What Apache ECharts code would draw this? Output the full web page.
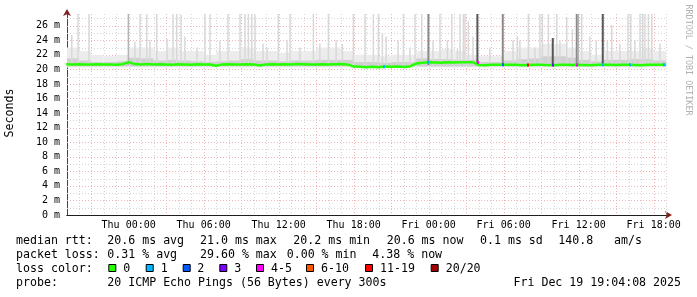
<!DOCTYPE html>
<html><head><meta charset="utf-8">
<script src="https://cdn.jsdelivr.net/npm/echarts@6/dist/echarts.min.js"></script>
<style>html,body{margin:0;padding:0;background:#fff}#c{width:697px;height:297px}</style>
</head><body><div id="c"></div>
<script>
// ---- data (hours relative to Thu 00:00, rtt in ms) ----
const X_MIN = -4.9311, X_MAX = 43.0689;
const Y_MAX = 27.6;
const xLabelHours = [0, 6, 12, 18, 24, 30, 36, 42];
const dayNames = ['Thu', 'Fri'];
const medianStart = -5, medianStep = 0.5;
const medianRtt = [20.70,20.68,20.70,20.66,20.68,20.70,20.68,20.66,20.62,20.70,
  21.00,20.72,20.68,20.74,20.66,20.70,20.66,20.62,20.70,20.68,
  20.64,20.70,20.68,20.66,20.50,20.68,20.70,20.68,20.66,20.70,
  20.68,20.52,20.68,20.70,20.66,20.70,20.68,20.72,20.70,20.68,
  20.66,20.70,20.68,20.70,20.72,20.68,20.38,20.36,20.30,20.34,
  20.30,20.38,20.36,20.38,20.32,20.40,20.80,20.92,20.96,20.94,
  20.92,20.96,20.94,20.98,20.96,20.98,20.60,20.55,20.62,20.64,
  20.62,20.64,20.62,20.55,20.60,20.64,20.62,20.58,20.55,20.62,
  20.64,20.60,20.62,20.58,20.55,20.62,20.64,20.62,20.60,20.64,
  20.62,20.60,20.55,20.62,20.64,20.62,20.64];
const smokeStart = -5; // hourly bins
const smokeLight = [23.0,22.5,22.0,21.8,22.0,23.0,23.0,22.5,23.0,22.5,22.5,22.0,22.5,22.5,23.0,22.5,
  22.5,22.3,22.5,22.5,23.0,23.0,22.5,22.0,22.0,21.8,22.0,22.0,22.5,22.5,22.8,22.5,
  22.0,21.8,21.8,22.5,23.0,23.0,23.5,23.5,23.0,22.5,22.0,22.5,22.5,22.5,22.8,22.5];
const smokeMid = [21.5,21.2,21.0,21.0,21.1,21.6,21.5,21.2,21.3,21.2,21.1,21.0,21.1,21.2,21.4,21.2,
  21.2,21.1,21.2,21.2,21.3,21.3,21.3,21.0,21.0,20.9,21.0,21.0,21.5,21.4,21.4,21.3,
  21.3,21.0,21.0,21.2,21.4,21.5,21.8,21.8,21.6,21.3,21.1,21.3,21.3,21.4,21.4,21.2];
// [hour, max rtt, density 1..4]
const spikes = [
  [-4.55,24.7,1],[-4.05,28,1],[-3.17,28,1],[-0.02,28,2],[0.5,23.8,1],[0.91,28,1],[1.45,28,1],[1.7,24.0,1],
  [2.25,28,1],[3.07,24.2,1],[3.55,28,1],[3.85,28,1],[4.19,27.5,1],[4.5,24.5,1],[5.47,23.0,1],[6.11,28,1],
  [6.51,28,1],[7.3,24.0,1],[7.95,28,1],[8.91,28,1],[9.31,28,1],[9.58,28,1],[9.85,28,1],[10.11,27.5,1],
  [10.75,23.5,1],[11.07,23.0,1],[11.98,28,1],[12.67,24.0,1],[12.91,28,1],[13.7,23.0,1],[14.78,28,1],
  [15.3,23.5,1],[15.98,28,1],[16.6,24.0,1],[17.1,23.5,1],[17.98,28,1],[18.91,28,1],[19.58,28,1],[19.98,28,1],
  [20.3,25.0,1],[20.6,24.5,1],[21.55,24.0,1],[21.98,28,1],[22.5,23.0,1],[22.91,28,1],[23.45,28,1],[23.98,28,3],
  [24.35,24.0,1],[24.91,28,1],[25.5,24.0,1],[25.85,28,1],[26.3,22.8,1],[26.51,28,1],[26.78,28,1],[26.91,28,1],
  [27.18,26.6,1],[27.55,24.5,1],[27.9,28,4],[28.9,23.0,1],[29.93,28,3],[30.75,24.0,1],[31.1,24.5,1],[31.3,24.0,1],
  [31.98,27.6,1],[32.5,23.0,1],[32.9,28,1],[33.1,28,1],[33.58,28,1],[33.93,24.3,4],[34.25,28,1],[34.5,24.0,1],
  [35.05,27.2,1],[35.5,25.5,1],[35.85,28,3],[35.97,28,2],[36.25,28,1],[36.9,24.5,1],[37.4,24.0,1],[37.93,28,4],
  [38.3,24.0,1],[38.65,26.1,1],[39.3,23.5,1],[39.95,28,1],[40.17,28,1],[40.5,24.0,1],[40.91,28,1],[41.13,28,1],
  [41.31,28,1],[41.58,28,1],[41.85,28,1],[42.5,23.5,1]];
// [hour, rtt, loss class index]
const lossMarks = [[20.39,20.36,1],[23.98,20.96,1],[27.91,20.95,4],[29.93,20.62,2],[31.98,20.60,6],
  [33.93,20.58,3],[35.9,20.60,4],[37.93,20.62,1],[40.11,20.62,1],[42.83,20.62,1]];
const lossLabels = ['0','1','2','3','4-5','6-10','11-19','20/20'];
const rttStats = ['median rtt:','20.6 ms avg','21.0 ms max','20.2 ms min','20.6 ms now','0.1 ms sd','140.8','am/s'];
const lossStats = ['packet loss:','0.31 % avg','29.60 % max','0.00 % min','4.38 % now'];
const probeText = ['probe:','20 ICMP Echo Pings (56 Bytes) every 300s'];
const stampText = 'Fri Dec 19 19:04:08 2025';

// ---- styles / layout ----
const lossColors = ['#26ff00','#00b8ff','#0059ff','#7e00ff','#ff00ff','#ff5500','#ff0000','#a10000'];
const densityColors = ['#d8d8d8','#d8d8d8','#b4b4b4','#8a8a8a','#565656'];
const MONO = '"DejaVu Sans Mono", monospace';
const FONT = '11.6px ' + MONO;

const medianData = medianRtt.map((v, i) => [medianStart + i * medianStep, v]);
const lightData = smokeLight.map((v, i) => [smokeStart + i, v]);
const midData = smokeMid.map((v, i) => [smokeStart + i, v]);
const vGrid = []; for (let h = Math.ceil(X_MIN); h <= Math.floor(X_MAX); h++) vGrid.push([h, 0]);
const hGrid = []; for (let v = 1; v < Y_MAX; v++) hGrid.push([X_MIN, v]);

function csRect(params) {
  const c = params.coordSys; return {x: c.x, y: c.y, width: c.width, height: c.height};
}
function renderBand(color, base) {
  return function (params, api) {
    const h = api.value(0), top = api.value(1);
    const p0 = api.coord([h, top]), p1 = api.coord([h + 1, base]);
    const r = echarts.graphic.clipRectByRect(
      {x: p0[0], y: p0[1], width: p1[0] - p0[0], height: p1[1] - p0[1]}, csRect(params));
    return r && {type: 'rect', shape: r, style: {fill: color}};
  };
}
function renderSpike(params, api) {
  const h = api.value(0), top = api.value(1), d = api.value(2);
  const p0 = api.coord([h, top]), p1 = api.coord([h, 20.6]);
  const w = d >= 3 ? 2 : 1.5;
  const r = echarts.graphic.clipRectByRect(
    {x: p0[0] - w / 2, y: p0[1], width: w, height: p1[1] - p0[1]}, csRect(params));
  return r && {type: 'rect', shape: r, style: {fill: densityColors[d]}};
}
function renderVGrid(params, api) {
  const h = api.value(0); const c = params.coordSys;
  const x = Math.round(api.coord([h, 0])[0]) + 0.5;
  if (x <= c.x + 1 || x > c.x + c.width) return null;
  const major = Math.round(h) % 3 === 0;
  return {type: 'line', shape: {x1: x, y1: c.y, x2: x, y2: c.y + c.height},
    style: {stroke: major ? '#f0b4b4' : '#d4d4d4', lineWidth: 1, lineDash: [1, 2]}};
}
function renderHGrid(params, api) {
  const v = api.value(1); const c = params.coordSys;
  const y = Math.round(api.coord([X_MIN, v])[1]) + 0.5;
  const major = Math.round(v) % 2 === 0;
  return {type: 'line', shape: {x1: c.x, y1: y, x2: c.x + c.width, y2: y},
    style: {stroke: major ? '#f0b4b4' : '#d4d4d4', lineWidth: 1, lineDash: [1, 2]}};
}
function renderLoss(params, api) {
  const p = api.coord([api.value(0), api.value(1)]);
  return {type: 'rect', shape: {x: Math.round(p[0]) - 1, y: p[1] - 1.5, width: 2, height: 3},
    style: {fill: lossColors[api.value(2)]}};
}

const graphics = [];
function txt(x, y, s, extra) {
  graphics.push(Object.assign({type: 'text', x: x, y: y, silent: true,
    style: {text: s, font: FONT, fill: '#000', verticalAlign: 'middle', textVerticalAlign: 'middle'}}, extra || {}));
}
const rttX = [16, 107.3, 200, 293.3, 386.7, 480, 558.3, 614];
rttStats.forEach((s, i) => txt(rttX[i], 241, s));
const lossX = [16, 107.3, 200, 286.7, 372.3];
lossStats.forEach((s, i) => txt(lossX[i], 255, s));
txt(16, 268.5, 'loss color:');
const boxX = [108.3, 145.7, 182.7, 219.3, 256, 306, 365, 430.7];
const lblX = [123.3, 160.7, 197.3, 234.3, 271, 321, 380, 445.7];
lossLabels.forEach((s, i) => {
  graphics.push({type: 'rect', silent: true, shape: {x: boxX[i] + 0.5, y: 264.5, width: 7, height: 7},
    style: {fill: lossColors[i], stroke: '#000', lineWidth: 1}});
  txt(lblX[i], 268.5, s);
});
txt(16, 283, probeText[0]);
txt(107.3, 283, probeText[1]);
graphics.push({type: 'text', x: 681, y: 283, silent: true,
  style: {text: stampText, font: FONT, fill: '#000', align: 'right', textAlign: 'right', verticalAlign: 'middle', textVerticalAlign: 'middle'}});
graphics.push({type: 'text', x: 10, y: 113, rotation: Math.PI / 2, silent: true,
  style: {text: 'Seconds', font: FONT, fill: '#000', align: 'center', textAlign: 'center', verticalAlign: 'middle', textVerticalAlign: 'middle'}});
graphics.push({type: 'text', x: 688, y: 60, rotation: -Math.PI / 2, silent: true,
  style: {text: 'RRDTOOL / TOBI OETIKER', font: '8.4px ' + MONO, fill: '#b0b0b0', align: 'center', textAlign: 'center', verticalAlign: 'middle', textVerticalAlign: 'middle'}});

const chart = echarts.init(document.getElementById('c'), null, {renderer: 'canvas'});
const axisBase = {type: 'value', min: X_MIN, max: X_MAX, splitLine: {show: false}};
chart.setOption({
  animation: false,
  backgroundColor: '#ffffff',
  grid: {left: 67, right: 30, top: 14, bottom: 82},
  xAxis: [
    Object.assign({}, axisBase, {position: 'bottom', offset: 0,
      axisLine: {show: true, onZero: false, lineStyle: {color: '#7f1f1f', width: 1}, symbol: ['none', 'arrow'], symbolSize: [6, 7], symbolOffset: [0, 5]},
      axisTick: {show: false}, axisLabel: {show: false}}),
    Object.assign({}, axisBase, {position: 'bottom', offset: 0,
      axisLine: {show: true, onZero: false, lineStyle: {color: '#1f1f1f', width: 1}},
      axisTick: {show: false},
      axisLabel: {show: true, customValues: xLabelHours, margin: 5, color: '#000',
        fontFamily: 'DejaVu Sans Mono', fontSize: 10,
        formatter: v => dayNames[Math.floor(v / 24)] + ' ' + String(Math.round(v % 24)).padStart(2, '0') + ':00'}})
  ],
  yAxis: [
    {type: 'value', min: 0, max: Y_MAX, interval: 2, position: 'left', offset: 0, splitLine: {show: false},
      axisLine: {show: true, onZero: false, lineStyle: {color: '#7f1f1f', width: 1}, symbol: ['none', 'arrow'], symbolSize: [6, 7], symbolOffset: [0, 5]},
      axisTick: {show: false}, axisLabel: {show: false}},
    {type: 'value', min: 0, max: Y_MAX, interval: 2, position: 'left', offset: 0, splitLine: {show: false},
      axisLine: {show: true, onZero: false, lineStyle: {color: '#444', width: 1}},
      axisTick: {show: false},
      axisLabel: {show: true, margin: 7, color: '#000', fontFamily: 'DejaVu Sans Mono', fontSize: 10,
        showMaxLabel: false,
        formatter: v => (Math.abs(v - Math.round(v)) < 1e-6 && Math.round(v) % 2 === 0) ? (Math.round(v) + ' m') : ''}}
  ],
  graphic: graphics,
  series: [
    {type: 'custom', name: 'vgrid', z: 1, data: vGrid, renderItem: renderVGrid, silent: true, clip: true},
    {type: 'custom', name: 'hgrid', z: 1, data: hGrid, renderItem: renderHGrid, silent: true, clip: true},
    {type: 'custom', name: 'smokeLight', z: 2, data: lightData, renderItem: renderBand('#ececec', 20.25), silent: true, clip: true},
    {type: 'custom', name: 'smokeMid', z: 3, data: midData, renderItem: renderBand('#d0d0d0', 20.4), silent: true, clip: true},
    {type: 'custom', name: 'spikes', z: 4, data: spikes, renderItem: renderSpike, silent: true, clip: true},
    {type: 'line', name: 'median', z: 5, data: medianData, showSymbol: false, clip: true,
      lineStyle: {color: '#26ff00', width: 2.5}, silent: true},
    {type: 'custom', name: 'loss', z: 6, data: lossMarks, renderItem: renderLoss, silent: true, clip: true}
  ]
});
</script></body></html>
